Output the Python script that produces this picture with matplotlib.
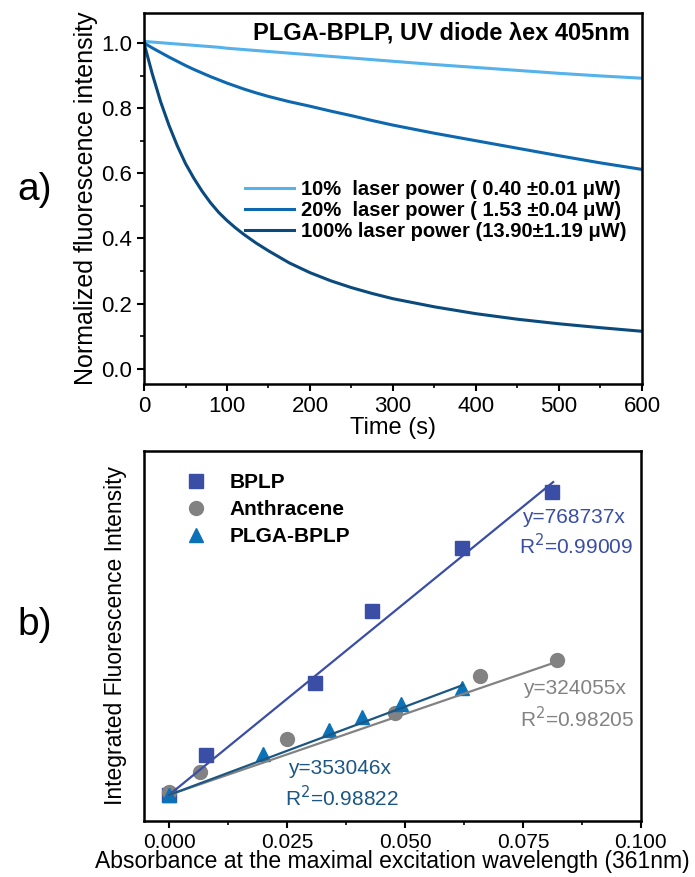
import numpy as np
import matplotlib
matplotlib.use('Agg')
import matplotlib.pyplot as plt
from matplotlib.ticker import MultipleLocator, NullLocator, FormatStrFormatter

plt.rcParams['font.family'] = ['Liberation Sans', 'DejaVu Sans']

# a) photobleaching curves
t = [0, 10, 20, 30, 40, 50, 60, 70, 80, 90, 100, 110, 120, 135, 150, 175,
     200, 225, 250, 275, 300, 350, 400, 450, 500, 550, 600]
p10 = [1.005, 1.003, 1.001, 0.999, 0.997, 0.995, 0.993, 0.991, 0.989,
       0.987, 0.984, 0.982, 0.980, 0.977, 0.974, 0.969, 0.964, 0.959,
       0.954, 0.949, 0.944, 0.934, 0.925, 0.916, 0.907, 0.899, 0.892]
p20 = [1.0, 0.985, 0.971, 0.957, 0.944, 0.931, 0.919, 0.908, 0.897, 0.887,
       0.877, 0.868, 0.859, 0.847, 0.836, 0.82, 0.806, 0.791, 0.777,
       0.762, 0.748, 0.723, 0.7, 0.677, 0.654, 0.632, 0.612]
p100 = [1.0, 0.905, 0.82, 0.748, 0.685, 0.63, 0.585, 0.545, 0.51, 0.48,
        0.455, 0.433, 0.413, 0.386, 0.362, 0.325, 0.295, 0.27, 0.249,
        0.231, 0.215, 0.19, 0.169, 0.152, 0.138, 0.126, 0.115]
labels_a = ['10%  laser power ( 0.40 \u00b10.01 \u03bcW)',
            '20%  laser power ( 1.53 \u00b10.04 \u03bcW)',
            '100% laser power (13.90\u00b11.19 \u03bcW)']

# b) integrated fluorescence vs absorbance
abs_bplp = [0.0, 0.0078, 0.0309, 0.043, 0.0621, 0.0811]
int_bplp = [0, 8000, 22400, 36800, 49400, 60600]
abs_anth = [0.0, 0.0066, 0.025, 0.0479, 0.0659, 0.0822]
int_anth = [600, 4600, 11200, 16400, 23800, 27000]
abs_plga = [0.0, 0.0199, 0.0339, 0.0409, 0.0492, 0.0621]
int_plga = [0, 8200, 13000, 15600, 18200, 21400]
slopes = [768737, 324055, 353046]
r2 = ['0.99009', '0.98205', '0.98822']

c10, c20, c100 = '#55b2ea', '#0d68b0', '#0b4a7d'
c_bplp, c_anth, c_plga, c_plga_fit = '#3a4ea6', '#828282', '#0c72b8', '#1c5784'

fig = plt.figure(figsize=(6.95, 8.77), dpi=100)

ax1 = fig.add_axes([0.2072, 0.5621, 0.7165, 0.4230])
ax1.plot(t, p10, color=c10, lw=2.2, label=labels_a[0])
ax1.plot(t, p20, color=c20, lw=2.2, label=labels_a[1])
ax1.plot(t, p100, color=c100, lw=2.2, label=labels_a[2])
ax1.set_xlim(0, 600)
ax1.set_ylim(-0.047, 1.092)
ax1.xaxis.set_major_locator(MultipleLocator(100))
ax1.xaxis.set_minor_locator(MultipleLocator(50))
ax1.yaxis.set_major_locator(MultipleLocator(0.2))
ax1.yaxis.set_minor_locator(MultipleLocator(0.1))
ax1.tick_params(which='major', direction='out', length=5, width=1.5, labelsize=16)
ax1.tick_params(which='minor', direction='out', length=3, width=1.2)
for s in ax1.spines.values():
    s.set_linewidth(1.8)
ax1.set_xlabel('Time (s)', fontsize=17, labelpad=0)
ax1.set_ylabel('Normalized fluorescence intensity', fontsize=18, labelpad=2)
ax1.text(0.976, 0.946, 'PLGA-BPLP, UV diode \u03bbex 405nm', transform=ax1.transAxes,
         ha='right', va='center', fontsize=17, fontweight='bold')
ax1.legend(loc='upper right', bbox_to_anchor=(1.005, 0.6), frameon=False,
           prop={'weight': 'bold', 'size': 14.5}, handlelength=2.4,
           handletextpad=0.35, labelspacing=0.12)
fig.text(0.05, 1 - 190 / 877, 'a)', fontsize=28, ha='center', va='center')

ax2 = fig.add_axes([0.2072, 0.0639, 0.7150, 0.4219])
ax2.plot(abs_bplp, int_bplp, 's', color=c_bplp, ms=10, ls='none', label='BPLP')
ax2.plot(abs_anth, int_anth, 'o', color=c_anth, ms=10, ls='none', label='Anthracene')
ax2.plot(abs_plga, int_plga, '^', color=c_plga, ms=10, ls='none', label='PLGA-BPLP')
fit_x = [[0, 0.0814], [0, 0.0822], [0, 0.0622]]
fit_c = [c_bplp, c_anth, c_plga_fit]
for xs, k, c in zip(fit_x, slopes, fit_c):
    xs = np.array(xs)
    ax2.plot(xs, k * xs, color=c, lw=1.6)
ax2.set_xlim(-0.0053, 0.1)
ax2.set_ylim(-5200, 68800)
ax2.xaxis.set_major_locator(MultipleLocator(0.025))
ax2.xaxis.set_minor_locator(MultipleLocator(0.0125))
ax2.xaxis.set_major_formatter(FormatStrFormatter('%.3f'))
ax2.yaxis.set_major_locator(NullLocator())
ax2.yaxis.set_minor_locator(NullLocator())
ax2.tick_params(which='major', direction='out', length=5, width=1.5, labelsize=15)
ax2.tick_params(which='minor', direction='out', length=3, width=1.2)
for s in ax2.spines.values():
    s.set_linewidth(1.8)
ax2.set_xlabel('Absorbance at the maximal excitation wavelength (361nm)',
               fontsize=16.5, labelpad=-1)
ax2.set_ylabel('Integrated Fluorescence Intensity', fontsize=16.5, labelpad=12)
ax2.legend(loc='upper left', bbox_to_anchor=(0.025, 0.99), frameon=False,
           prop={'weight': 'bold', 'size': 15}, handletextpad=0.6,
           labelspacing=0.38)
txt = [('y=768737x', 'R$^2$=' + r2[0], c_bplp, 0.76, 0.820, 0.745),
       ('y=324055x', 'R$^2$=' + r2[1], c_anth, 0.762, 0.358, 0.277),
       ('y=353046x', 'R$^2$=' + r2[2], c_plga_fit, 0.29, 0.143, 0.062)]
for a, b, c, x, y1, y2 in txt:
    ax2.text(x, y1, a, transform=ax2.transAxes, color=c, fontsize=15, va='center')
    ax2.text(x - 0.006, y2, b, transform=ax2.transAxes, color=c, fontsize=15, va='center')
fig.text(0.05, 1 - 625 / 877, 'b)', fontsize=28, ha='center', va='center')

fig.savefig('out.png', dpi=100)
